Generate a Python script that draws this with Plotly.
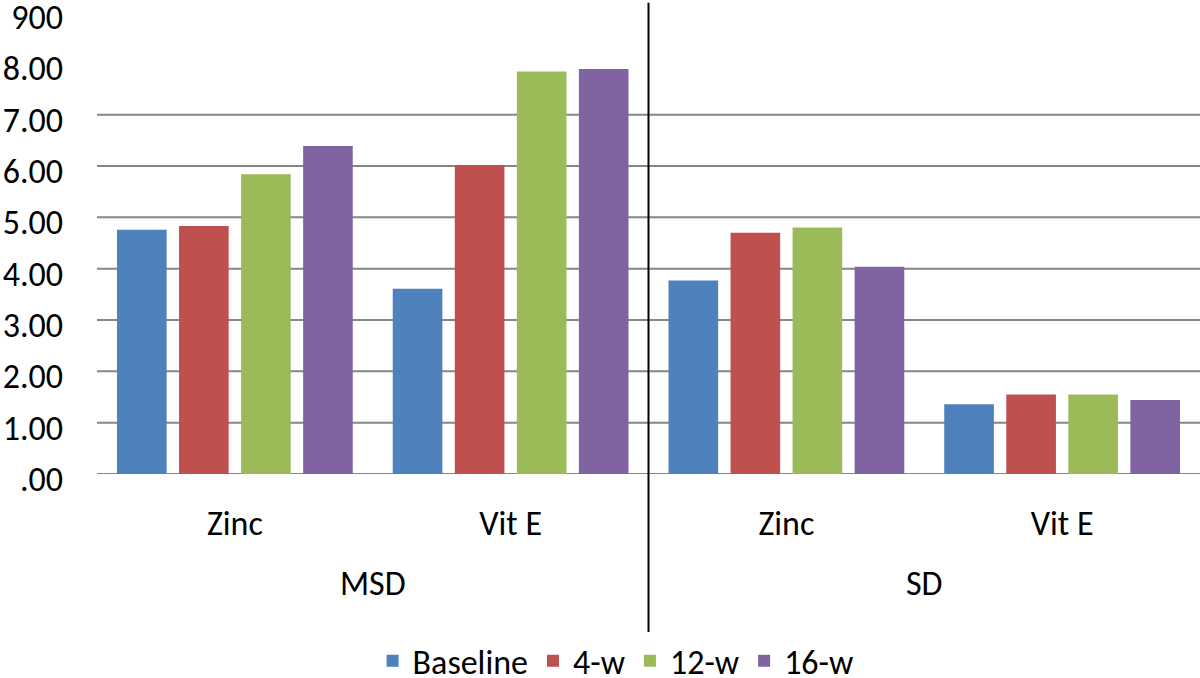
import plotly.graph_objects as go

categories = ["Zinc", "Vit E", "Zinc ", "Vit E "]
tick_labels = ["Zinc", "Vit E", "Zinc", "Vit E"]
groups = ["MSD", "SD"]
group_pos = [0.5, 2.5]
series_names = ["Baseline", "4-w", "12-w", "16-w"]
baseline = [4.76, 3.61, 3.77, 1.36]
w4 = [4.83, 6.02, 4.70, 1.55]
w12 = [5.84, 7.84, 4.80, 1.55]
w16 = [6.39, 7.89, 4.04, 1.44]
colors = ["#4F81BD", "#C0504D", "#9BBB59", "#8064A2"]
y_ticks = [0, 1, 2, 3, 4, 5, 6, 7, 8, 9]
y_ticktext = [".00", "1.00", "2.00", "3.00", "4.00", "5.00", "6.00", "7.00", "8.00", "900"]
grid_values = [0, 1, 2, 3, 4, 5, 6, 7]

FONT = "Carlito, Lato, sans-serif"
FS = 34

fig = go.Figure()
for name, vals, c in zip(series_names, [baseline, w4, w12, w16], colors):
    fig.add_trace(go.Bar(x=categories, y=vals, name=name, marker_color=c,
                         marker_line_width=0))

shapes = []
for g in grid_values:
    shapes.append(dict(type="line", xref="paper", yref="y", x0=0, x1=1, y0=g, y1=g,
                       line=dict(color="#868686", width=2), layer="below"))
shapes.append(dict(type="line", xref="x", yref="paper", x0=1.5, x1=1.5,
                   y0=-0.366, y1=1.018, line=dict(color="black", width=2)))

annotations = []
for gname, gp in zip(groups, group_pos):
    annotations.append(dict(x=gp, y=-0.237, xref="x", yref="paper", text=gname,
                            showarrow=False, font=dict(size=FS, color="black", family=FONT),
                            yanchor="middle"))

fig.update_layout(
    width=1200, height=678,
    margin=dict(l=97, r=0, t=11, b=204, autoexpand=False),
    plot_bgcolor="white", paper_bgcolor="white",
    barmode="group", bargap=0.1, bargroupgap=0.2,
    font=dict(family=FONT, size=FS, color="black"),
    shapes=shapes, annotations=annotations,
    legend=dict(orientation="h", x=0.513, xref="container", xanchor="center",
                y=0.025, yref="container", yanchor="middle",
                font=dict(size=FS, family=FONT), traceorder="normal",
                itemwidth=30),
    xaxis=dict(tickvals=categories, ticktext=tick_labels, showgrid=False,
               showline=False, ticks="", ticklabelstandoff=26, automargin=False,
               tickfont=dict(size=FS, family=FONT)),
    yaxis=dict(range=[0, 9.02], tickvals=y_ticks, ticktext=y_ticktext,
               showgrid=False, zeroline=False, showline=False, ticks="",
               ticklabelstandoff=33, automargin=False, ticklabeloverflow="allow",
               ticklabelshift=5,
               tickfont=dict(size=FS, family=FONT)),
)

fig.write_html("out.html", config={"displayModeBar": False},
               post_script="document.body.style.margin='0';")
